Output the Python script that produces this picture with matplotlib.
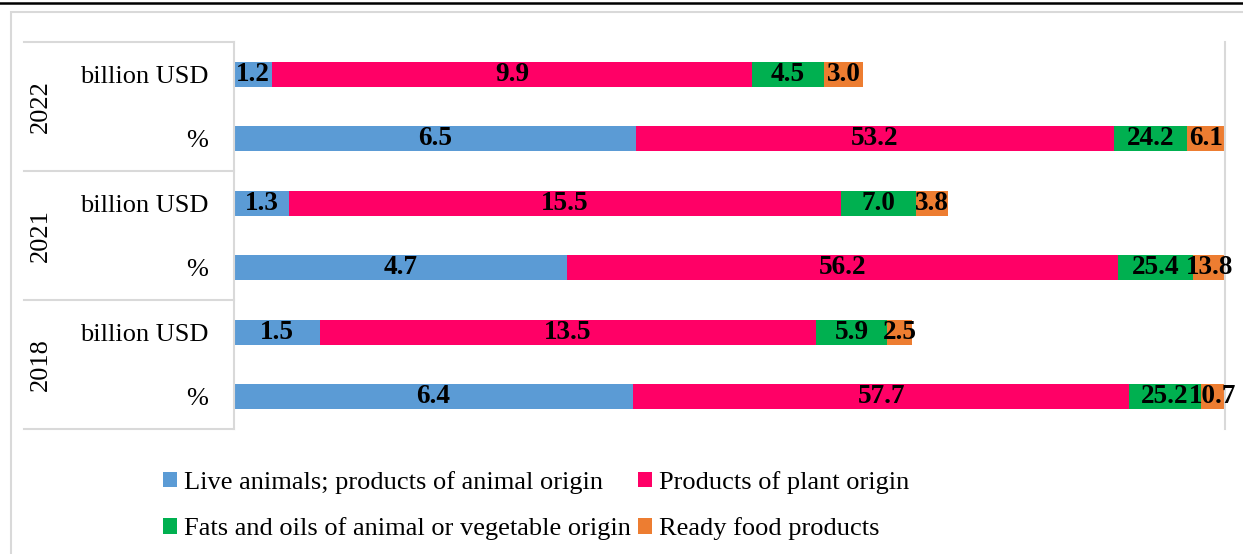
import matplotlib
matplotlib.use("Agg")
import matplotlib.pyplot as plt
from matplotlib.lines import Line2D
from matplotlib.patches import Rectangle
import matplotlib.transforms as mtransforms

plt.rcParams['font.family'] = ['Liberation Serif', 'DejaVu Serif']

# ---- data ----
years = ['2022', '2021', '2018']
units = ['billion USD', '%']
series = ['Live animals; products of animal origin', 'Products of plant origin',
          'Fats and oils of animal or vegetable origin', 'Ready food products']
colors = ['#5B9BD5', '#FF0066', '#00B050', '#ED7D31']

# drawn segment lengths (% of axis width)
live_len = [3.86, 40.57, 5.58, 33.57, 8.68, 40.26]
plant_len = [48.37, 48.23, 55.64, 55.63, 50.05, 50.08]
fats_len = [7.33, 7.40, 7.57, 7.60, 7.19, 7.20]
ready_len = [3.87, 3.80, 3.26, 3.20, 2.46, 2.45]

# data labels shown on the segments
live_lbl = ['1.2', '6.5', '1.3', '4.7', '1.5', '6.4']
plant_lbl = ['9.9', '53.2', '15.5', '56.2', '13.5', '57.7']
fats_lbl = ['4.5', '24.2', '7.0', '25.4', '5.9', '25.2']
ready_lbl = ['3.0', '6.1', '3.8', '13.8', '2.5', '10.7']

W, H = 1243, 554
fig = plt.figure(figsize=(W / 100, H / 100), dpi=100)
ax_l, ax_r, ax_t, ax_b = 234, 1225, 42, 429
ax = fig.add_axes([ax_l / W, 1 - ax_b / H, (ax_r - ax_l) / W, (ax_b - ax_t) / H])

n = len(live_len)
ypos = list(range(n))
lens = [live_len, plant_len, fats_len, ready_len]
lbls = [live_lbl, plant_lbl, fats_lbl, ready_lbl]
left = [0.0] * n
handles = []
for s, c, L, lab in zip(series, colors, lens, lbls):
    bars = ax.barh(ypos, L, left=left, height=0.39, color=c, label=s, linewidth=0)
    ax.bar_label(bars, labels=lab, label_type='center', fontsize=19.5,
                 fontweight='bold', color='black')
    handles.append(bars)
    left = [a + b for a, b in zip(left, L)]

ax.set_xlim(0, 100)
ax.set_ylim(n - 0.5, -0.5)
ax.set_xticks([])
ax.set_yticks(ypos)
ax.set_yticklabels(units * len(years), fontsize=19)
ax.tick_params(axis='y', length=0, pad=18.5)
for sp in ['top', 'bottom']:
    ax.spines[sp].set_visible(False)
for sp in ['left', 'right']:
    ax.spines[sp].set_color('#d9d9d9')
    ax.spines[sp].set_linewidth(1.5)

# year group labels and separators
bt = mtransforms.blended_transform_factory(fig.transFigure, ax.transData)
for i, yr in enumerate(years):
    ax.text(41 / W, 2 * i + 0.5, yr, transform=bt, rotation=90, fontsize=19,
            ha='center', va='center')
for yv in [-0.5, 1.5, 3.5, 5.5]:
    fig.add_artist(Line2D([24 / W, ax_l / W], [yv, yv], transform=bt,
                          color='#d9d9d9', lw=1.5))

# chart frame and top rule
fig.add_artist(Rectangle((11 / W, -0.1), 1.2, 1.1 - 12 / H, transform=fig.transFigure,
                         facecolor='none', edgecolor='#d9d9d9', lw=1.5))
fig.add_artist(Line2D([0, 1], [1 - 3 / H, 1 - 3 / H], transform=fig.transFigure,
                      color='black', lw=1.8))

# legend
order = [0, 2, 1, 3]
fig.legend([handles[i] for i in order], [series[i] for i in order],
           loc='upper left', bbox_to_anchor=(163 / W, 1 - 471 / H), ncol=2,
           frameon=False, fontsize=19, handlelength=0.53, handleheight=0.53,
           handletextpad=0.25, columnspacing=0.3, labelspacing=0.88,
           borderpad=0, borderaxespad=0)

fig.savefig('out.png', dpi=100)
